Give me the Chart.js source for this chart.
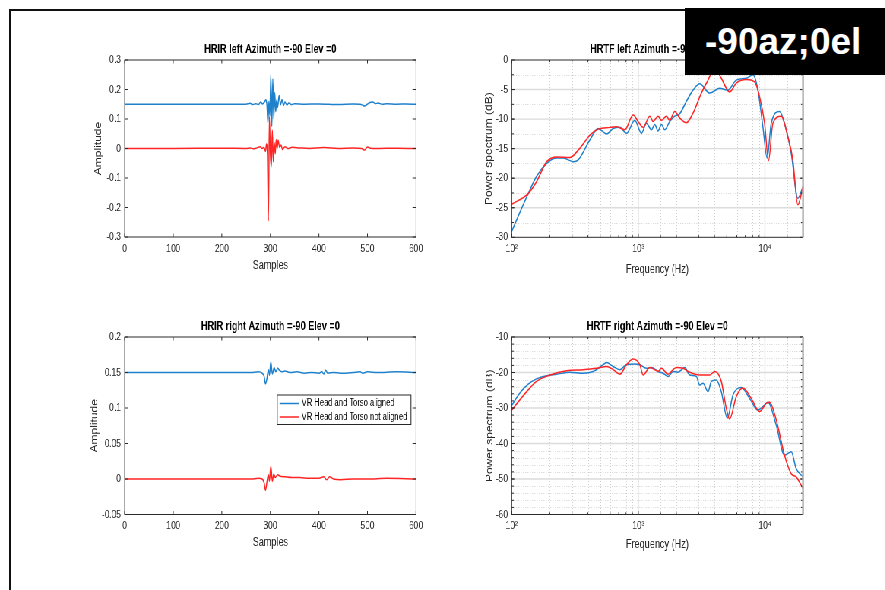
<!DOCTYPE html>
<html>
<head>
<meta charset="utf-8">
<script src="https://cdn.jsdelivr.net/npm/chart.js@4/dist/chart.umd.min.js"></script>
<style>
  html, body { margin: 0; padding: 0; background: #fff; width: 885px; height: 590px; overflow: hidden; }
  #frame { position: absolute; left: 9px; top: 9px; width: 900px; height: 600px;
           border-left: 2px solid #111; border-top: 2px solid #111; }
  #stage { position: absolute; left: 0; top: 0; width: 1165px; height: 590px;
           transform: scaleX(0.76); transform-origin: 0 0; }
  #stage canvas { position: absolute; }
  #tag { position: absolute; left: 685px; top: 8px; width: 200px; height: 67px; background: #000;
         color: #fff; font: bold 37px 'Liberation Sans', Arial, sans-serif; line-height: 67px;
         padding-left: 20px; box-sizing: border-box; white-space: nowrap; }
</style>
</head>
<body>
<div id="frame"></div>
<div id="stage"></div>
<div id="tag">-90az;0el</div>
<script>
// ---------------- data ----------------
const seriesNames = ['VR Head and Torso aligned', 'VR Head and Torso not aligned'];

// HRIR left ear (amplitude vs sample index)
const irLeftSamplesA = [0, 100, 200, 250, 258, 264, 270, 276, 280, 284, 288, 291, 293, 295, 297, 299, 301, 303, 305, 307,
  309, 311, 313, 315, 318, 321, 324, 327, 330, 334, 338, 344, 350, 370, 400, 440, 470, 485, 490, 494,
  499, 505, 511, 516, 522, 530, 540, 560, 580, 600];
const irLeftAligned = [0.15, 0.15, 0.15, 0.15, 0.153, 0.149, 0.152, 0.149, 0.158, 0.151, 0.158, 0.165, 0.145, 0.085, 0.16, 0.11, 0.252, 0.075, 0.236, 0.1,
  0.19, 0.125, 0.165, 0.14, 0.18, 0.148, 0.166, 0.146, 0.158, 0.147, 0.154, 0.149, 0.152, 0.15, 0.151, 0.149, 0.151, 0.15, 0.147, 0.144,
  0.149, 0.156, 0.158, 0.152, 0.154, 0.15, 0.152, 0.15, 0.151, 0.15];
const irLeftSamplesB = [0, 100, 200, 250, 258, 265, 272, 279, 283, 287, 290, 292, 294, 296, 298, 300, 302, 304, 306, 308,
  310, 312, 314, 316, 319, 322, 325, 330, 336, 345, 360, 380, 410, 440, 470, 488, 494, 500, 506, 520,
  560, 600];
const irLeftNotAligned = [0, 0, 0.001, 0, 0.002, -0.001, 0.002, 0.006, 0, 0.004, -0.01, 0.015, -0.02, -0.245, 0.108, -0.02, -0.062, 0.062, -0.045, 0.02,
  -0.018, 0.03, 0.0, 0.028, 0.004, 0.012, -0.003, 0.006, 0, 0.004, 0.002, 0, 0.003, 0, 0.002, 0, -0.005, 0.005, 0.001, 0,
  0.001, 0];

// HRIR right ear
const irRightSamplesA = [0, 100, 200, 260, 275, 283, 287, 290, 293, 296, 298, 301, 304, 308, 311, 315, 319, 324, 330, 340,
  355, 370, 385, 400, 406, 410, 414, 418, 430, 445, 470, 485, 490, 500, 520, 560, 600];
const irRightAligned = [0.15, 0.15, 0.15, 0.15, 0.151, 0.149, 0.145, 0.134, 0.142, 0.154, 0.146, 0.165, 0.148, 0.157, 0.151, 0.156, 0.153, 0.151, 0.152, 0.15,
  0.151, 0.149, 0.15, 0.149, 0.151, 0.148, 0.153, 0.149, 0.15, 0.149, 0.15, 0.151, 0.149, 0.151, 0.15, 0.151, 0.15];
const irRightSamplesB = [0, 100, 200, 260, 275, 283, 287, 290, 293, 296, 298, 301, 304, 307, 310, 315, 320, 330, 345, 360,
  380, 400, 410, 416, 422, 430, 445, 470, 500, 540, 600];
const irRightNotAligned = [0, 0, 0, 0, 0.001, 0, -0.005, -0.016, -0.004, 0.006, -0.003, 0.018, -0.003, 0.007, 0.002, 0.006, 0.004, 0.003, 0.002, 0.002,
  0.001, 0.001, 0.003, -0.001, 0.003, 0, -0.001, 0, 0, 0.001, 0];

// HRTF left ear (dB vs Hz)
const tfLeftFreqA = [100, 116, 135, 157, 189, 226, 256, 306, 335, 415, 482, 561, 633, 714, 807, 938, 1059, 1159, 1270, 1349,
  1432, 1524, 1618, 1771, 1940, 2124, 2398, 2705, 3055, 3663, 4392, 5107, 5940, 7126, 8042, 8811, 9643, 10420, 11220, 13060,
  14290, 16140, 18200, 20000];
const tfLeftAligned = [-29.0, -25.8, -22.6, -19.7, -17.5, -16.6, -16.6, -17.2, -16.9, -13.5, -11.6, -12.5, -11.6, -11.4, -12.4, -10.2, -12.4, -10.7, -11.8, -10.9,
  -12.0, -10.9, -11.8, -10.4, -9.5, -9.1, -7.0, -5.1, -4.0, -5.6, -4.8, -5.1, -3.4, -3.1, -2.5, -5.1, -11.3, -16.6, -10.7, -8.7,
  -10.7, -15.8, -23.4, -21.4];
const tfLeftFreqB = [100, 135, 157, 189, 226, 288, 346, 415, 482, 596, 673, 783, 910, 997, 1091, 1233, 1309, 1432, 1524, 1667,
  1771, 1940, 2124, 2398, 2705, 3148, 3556, 4011, 4525, 5262, 5940, 7126, 8288, 9078, 9935, 10690, 11560, 13460, 15180, 16620,
  18200, 20000];
const tfLeftNotAligned = [-24.4, -22.6, -20.6, -17.2, -16.4, -16.5, -14.9, -12.7, -11.7, -11.4, -11.3, -11.8, -9.3, -10.4, -11.4, -9.5, -10.4, -9.5, -10.2, -9.5,
  -10.2, -8.7, -9.8, -10.6, -9.0, -5.6, -3.4, -1.4, -3.1, -5.4, -3.9, -3.3, -3.7, -6.2, -10.7, -17.0, -10.7, -9.5, -13.0, -16.9,
  -24.5, -21.4];

// HRTF right ear
const tfRightFreqA = [100, 116, 135, 157, 189, 226, 288, 367, 440, 528, 561, 633, 714, 807, 938, 1028, 1159, 1270, 1432, 1570,
  1718, 1882, 2061, 2328, 2547, 2874, 3055, 3245, 3556, 3774, 4133, 4525, 5046, 5598, 6502, 7575, 8811, 9643, 10560, 12280,
  14290, 16140, 17660, 20000];
const tfRightAligned = [-29.3, -25.8, -23.3, -21.8, -20.9, -20.5, -19.9, -20.2, -19.7, -17.8, -17.2, -18.3, -19.2, -17.8, -17.6, -17.8, -18.8, -18.6, -19.7, -20.2,
  -21.1, -19.7, -19.9, -18.6, -20.7, -21.1, -23.5, -23.0, -25.4, -22.5, -22.1, -25.4, -32.9, -26.3, -24.2, -27.3, -30.6, -29.6, -28.4, -34.8,
  -43.3, -42.3, -47.1, -49.4];
const tfRightFreqB = [100, 116, 135, 157, 201, 271, 367, 468, 561, 633, 714, 807, 910, 1028, 1091, 1233, 1349, 1432, 1524, 1718,
  1882, 2000, 2256, 2472, 3055, 3663, 4011, 4525, 4955, 5262, 5940, 6708, 7805, 9078, 10240, 10880, 12280, 14290, 16140, 17660,
  20000];
const tfRightNotAligned = [-30.6, -27.7, -24.9, -22.5, -20.7, -19.5, -19.2, -18.8, -18.3, -19.2, -20.5, -17.8, -16.2, -17.8, -20.7, -18.6, -19.2, -19.7, -18.8, -20.5,
  -19.2, -18.6, -18.8, -19.7, -20.7, -20.7, -19.7, -22.5, -30.1, -33.1, -26.8, -24.4, -27.3, -31.0, -28.7, -28.4, -33.3, -43.3, -48.5, -49.4,
  -52.7];

// ---------------- styling ----------------
const FONT = "'Liberation Sans', Arial, Helvetica, sans-serif";
Chart.defaults.font.family = FONT;
Chart.defaults.color = '#262626';
const BLUE = '#1f80cc';
const RED = '#ff2525';
const SQUEEZE = 0.76;           // horizontal scale applied to #stage
const SUP = {'2': '\u00b2', '3': '\u00b3', '4': '\u2074'};

const toPoints = (xs, ys) => xs.map((x, i) => ({x, y: ys[i]}));
const isDecade = v => Math.abs(Math.log10(v) - Math.round(Math.log10(v))) < 1e-9;
const shortNum = v => String(Number(v.toFixed(6)));

// Axes box, grid and inward tick marks in the style of a MATLAB figure
const matlabAxes = {
  id: 'matlabAxes',
  beforeDatasetsDraw(chart, args, o) {
    if (!o.grid) return;
    const {ctx, chartArea: a, scales: {x, y}} = chart;
    ctx.save();
    ctx.lineWidth = 1;
    // minor grid
    ctx.strokeStyle = '#cfcfcf';
    ctx.setLineDash([1, 2]);
    ctx.beginPath();
    x.ticks.forEach(t => {
      if (isDecade(t.value) || t.value <= x.min || t.value >= x.max) return;
      const px = Math.round(x.getPixelForValue(t.value)) + 0.5;
      ctx.moveTo(px, a.top); ctx.lineTo(px, a.bottom);
    });
    for (let v = y.min + o.yMinor; v < y.max - 1e-9; v += o.yMinor) {
      if (Math.abs(v / o.yMajor - Math.round(v / o.yMajor)) < 1e-6) continue;
      const py = Math.round(y.getPixelForValue(v)) + 0.5;
      ctx.moveTo(a.left, py); ctx.lineTo(a.right, py);
    }
    ctx.stroke();
    // major grid
    ctx.setLineDash([]);
    ctx.strokeStyle = '#dcdcdc';
    ctx.lineWidth = 1.4;
    ctx.beginPath();
    x.ticks.forEach(t => {
      if (!isDecade(t.value) || t.value <= x.min || t.value >= x.max) return;
      const px = x.getPixelForValue(t.value);
      ctx.moveTo(px, a.top); ctx.lineTo(px, a.bottom);
    });
    y.ticks.forEach(t => {
      if (t.value <= y.min || t.value >= y.max) return;
      const py = y.getPixelForValue(t.value);
      ctx.moveTo(a.left, py); ctx.lineTo(a.right, py);
    });
    ctx.stroke();
    ctx.restore();
  },
  afterDatasetsDraw(chart, args, o) {
    const {ctx, chartArea: a, scales: {x, y}} = chart;
    ctx.save();
    ctx.strokeStyle = '#2b2b2b';
    ctx.lineWidth = 1;
    ctx.beginPath();
    const vLen = 3.5, hLen = 3.5 / SQUEEZE;
    x.ticks.forEach(t => {
      const major = !o.grid || isDecade(t.value);
      const len = major ? vLen : vLen * 0.6;
      const px = x.getPixelForValue(t.value);
      ctx.moveTo(px, a.bottom); ctx.lineTo(px, a.bottom - len);
      ctx.moveTo(px, a.top); ctx.lineTo(px, a.top + len);
    });
    y.ticks.forEach(t => {
      const py = y.getPixelForValue(t.value);
      ctx.moveTo(a.left, py); ctx.lineTo(a.left + hLen, py);
      ctx.moveTo(a.right, py); ctx.lineTo(a.right - hLen, py);
    });
    if (o.grid) {
      for (let v = y.min + o.yMinor; v < y.max - 1e-9; v += o.yMinor) {
        const py = y.getPixelForValue(v);
        ctx.moveTo(a.left, py); ctx.lineTo(a.left + hLen * 0.6, py);
        ctx.moveTo(a.right, py); ctx.lineTo(a.right - hLen * 0.6, py);
      }
    }
    ctx.stroke();
    ctx.strokeRect(a.left, a.top, a.right - a.left, a.bottom - a.top);
    if (o.grid) {
      // the right-hand edge of the spectrum axes reads as a soft grey bar
      ctx.strokeStyle = '#b4b4b4';
      ctx.lineWidth = 2.5;
      ctx.beginPath();
      ctx.moveTo(a.right, a.top); ctx.lineTo(a.right, a.bottom);
      ctx.stroke();
    }
    ctx.restore();
  },
  afterDraw(chart, args, o) {
    if (!o.legend) return;
    const {ctx, chartArea: a} = chart;
    const ds = chart.data.datasets.slice().sort((p, q) => p.legendIndex - q.legendIndex);
    ctx.save();
    ctx.font = `10px ${FONT}`;
    const textW = Math.max(...ds.map(d => ctx.measureText(d.label).width));
    const w = 32 + textW + 5, h = 29.5;
    const right = a.right - 6.6, top = a.top + 58, left = right - w;
    ctx.fillStyle = '#fff';
    ctx.fillRect(left, top, w, h);
    ctx.strokeStyle = '#262626';
    ctx.lineWidth = 1;
    ctx.strokeRect(left, top, w, h);
    ds.forEach((d, i) => {
      const cy = top + 8.5 + i * 13.5;
      ctx.strokeStyle = d.borderColor;
      ctx.lineWidth = 1.5;
      ctx.beginPath(); ctx.moveTo(left + 3, cy); ctx.lineTo(left + 29, cy); ctx.stroke();
      ctx.fillStyle = '#000';
      ctx.textBaseline = 'middle';
      ctx.fillText(d.label, left + 32, cy);
    });
    ctx.restore();
  }
};

const stage = document.getElementById('stage');

function panel(p) {
  const cv = document.createElement('canvas');
  cv.width = p.rect.w; cv.height = p.rect.h;
  cv.style.left = p.rect.x + 'px';
  cv.style.top = p.rect.y + 'px';
  stage.appendChild(cv);

  const yW = p.box.left - p.rect.x;
  const xH = p.rect.y + p.rect.h - p.box.bottom;
  const padR = p.rect.x + p.rect.w - p.box.right;
  const lh = 12 * 1.2;
  const tTop = (p.box.top - 10) - p.rect.y - lh / 2;
  const tBot = p.box.top - p.rect.y - tTop - lh;
  const xTitlePad = (p.rect.y + p.rect.h) - (p.box.bottom + p.xLabelGap) - lh / 2;
  const yTitlePad = (p.box.left - p.yLabelGap) - p.rect.x - lh / 2;

  const line = (label, pts, color, order, legendIndex) => ({
    label, data: pts, borderColor: color, backgroundColor: color, borderWidth: 1.5,
    pointRadius: 0, cubicInterpolationMode: 'monotone', fill: false, order, legendIndex
  });

  const xScale = p.log ? {
    type: 'logarithmic', min: 100, max: 20000,
    ticks: { autoSkip: false, maxRotation: 0, padding: 5, font: {size: 11},
      callback: v => isDecade(v) ? '10' + String(Math.round(Math.log10(v))).split('').map(c => SUP[c]).join('') : '' }
  } : {
    type: 'linear', min: 0, max: 600,
    ticks: { stepSize: 100, maxRotation: 0, padding: 5, font: {size: 11}, callback: shortNum }
  };
  Object.assign(xScale, {
    position: 'bottom',
    grid: { display: false, drawTicks: false },
    border: { display: false },
    title: { display: true, text: p.xTitle, font: {size: 12}, color: '#262626', padding: {top: 0, bottom: xTitlePad} },
    afterFit: s => { s.height = xH; }
  });

  new Chart(cv, {
    type: 'line',
    data: {
      datasets: [
        line(seriesNames[1], p.b, RED, 0, 1),
        line(seriesNames[0], p.a, BLUE, 1, 0)
      ]
    },
    options: {
      responsive: false,
      animation: false,
      events: [],
      layout: { padding: { left: 0, top: 0, right: padR, bottom: 0 } },
      scales: {
        x: xScale,
        y: {
          type: 'linear', min: p.y.min, max: p.y.max,
          ticks: { stepSize: p.y.step, padding: 5, font: {size: 11}, callback: shortNum },
          grid: { display: false, drawTicks: false },
          border: { display: false },
          title: { display: true, text: p.yTitle, font: {size: 12}, color: '#262626', padding: {top: yTitlePad, bottom: 0} },
          afterFit: s => { s.width = yW; }
        }
      },
      plugins: {
        legend: { display: false },
        tooltip: { enabled: false },
        title: { display: true, text: p.title, fullSize: false, color: '#000',
                 font: {size: 12, weight: 'bold'}, padding: {top: tTop, bottom: tBot} },
        matlabAxes: { grid: !!p.log, yMinor: p.y.minor, yMajor: p.y.step, legend: !!p.legend }
      }
    },
    plugins: [matlabAxes]
  });
}

const L1 = 164.1, R1 = 547.4, L2 = 673.3, R2 = 1056.6;

panel({
  rect: {x: 100, y: 30, w: 470, h: 255}, box: {left: L1, right: R1, top: 60, bottom: 237},
  title: 'HRIR left Azimuth =-90 Elev =0', xTitle: 'Samples', yTitle: 'Amplitude',
  xLabelGap: 29, yLabelGap: 34.7,
  y: {min: -0.3, max: 0.3, step: 0.1},
  a: toPoints(irLeftSamplesA, irLeftAligned), b: toPoints(irLeftSamplesB, irLeftNotAligned)
});
panel({
  rect: {x: 610, y: 30, w: 480, h: 255}, box: {left: L2, right: R2, top: 60, bottom: 237.3},
  title: 'HRTF left Azimuth =-90 Elev =0', xTitle: 'Frequency (Hz)', yTitle: 'Power spectrum (dB)',
  xLabelGap: 32, yLabelGap: 29.5, log: true,
  y: {min: -30, max: 0, step: 5, minor: 2.5},
  a: toPoints(tfLeftFreqA, tfLeftAligned), b: toPoints(tfLeftFreqB, tfLeftNotAligned)
});
panel({
  rect: {x: 100, y: 305, w: 470, h: 262}, box: {left: L1, right: R1, top: 337, bottom: 514.5},
  title: 'HRIR right Azimuth =-90 Elev =0', xTitle: 'Samples', yTitle: 'Amplitude',
  xLabelGap: 28.3, yLabelGap: 39, legend: true,
  y: {min: -0.05, max: 0.2, step: 0.05},
  a: toPoints(irRightSamplesA, irRightAligned), b: toPoints(irRightSamplesB, irRightNotAligned)
});
panel({
  rect: {x: 610, y: 305, w: 480, h: 262}, box: {left: L2, right: R2, top: 337, bottom: 514.5},
  title: 'HRTF right Azimuth =-90 Elev =0', xTitle: 'Frequency (Hz)', yTitle: 'Power spectrum (dB)',
  xLabelGap: 30.5, yLabelGap: 28.6, log: true,
  y: {min: -60, max: -10, step: 10, minor: 2},
  a: toPoints(tfRightFreqA, tfRightAligned), b: toPoints(tfRightFreqB, tfRightNotAligned)
});
</script>
</body>
</html>
